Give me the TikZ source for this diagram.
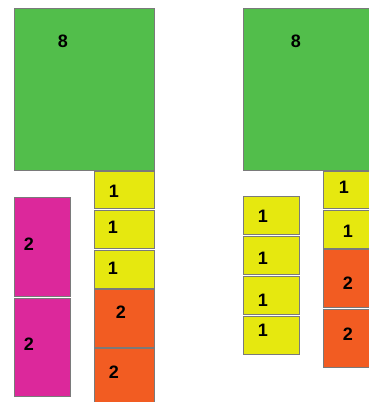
\documentclass[tikz,border=0pt]{standalone}
\usepackage{fontspec}
\setmainfont{Liberation Sans}
\usetikzlibrary{positioning}
\definecolor{bgreen}{HTML}{52BE4B}
\definecolor{byellow}{HTML}{E6E80F}
\definecolor{borange}{HTML}{F25C22}
\definecolor{bmagenta}{HTML}{DC289B}
\definecolor{bedge}{HTML}{7A7A7A}
\begin{document}
\begin{tikzpicture}[x=1pt, y=-1pt, every node/.style={font=\fontsize{18}{18}\selectfont\bfseries}]
        \tikzset{blk/.style={draw=bedge, line width=1pt}}
        \useasboundingbox (0,0) rectangle (369,402);
        % left layout
        \draw[blk, fill=bgreen] (14,8) rectangle (154,170);
        \node (lg) at (63,41) {8};
        
        \draw[blk, fill=byellow] (94,171) rectangle (154,208);
        \node (ly1) at (114,191) {1};
        \draw[blk, fill=byellow] (94,210) rectangle (154,248);
        \node (ly2) at (113,227) {1};
        \draw[blk, fill=byellow] (94,250) rectangle (154,288);
        \node (ly3) at (113,268) {1};
        \draw[blk, fill=borange] (94,289) rectangle (154,347);
        \node (lo1) at (121,312) {2};
        \draw[blk, fill=borange] (94,348) rectangle (154,406);
        \node (lo2) at (114,372) {2};
        
        \draw[blk, fill=bmagenta] (14,197) rectangle (70,296);
        \node (lm1) at (29,244) {2};
        \draw[blk, fill=bmagenta] (14,298) rectangle (70,396);
        \node (lm2) at (29,344) {2};
        
        % right layout
        \draw[blk, fill=bgreen] (243,8) rectangle (374,170);
        \node (rg) at (296,41) {8};
        
        \draw[blk, fill=byellow] (323,171) rectangle (374,208);
        \node (ry1) at (344,187) {1};
        \draw[blk, fill=byellow] (323,210) rectangle (374,248);
        \node (ry2) at (348,231) {1};
        \draw[blk, fill=borange] (323,249) rectangle (374,307);
        \node (ro1) at (348,283) {2};
        \draw[blk, fill=borange] (323,309) rectangle (374,367);
        \node (ro2) at (348,334) {2};
        
        \draw[blk, fill=byellow] (243,196) rectangle (299,234);
        \node (rs1) at (263,216) {1};
        \draw[blk, fill=byellow] (243,236) rectangle (299,274);
        \node (rs2) at (263,258) {1};
        \draw[blk, fill=byellow] (243,276) rectangle (299,314);
        \node (rs3) at (263,300) {1};
        \draw[blk, fill=byellow] (243,316) rectangle (299,354);
        \node (rs4) at (263,330) {1};
    \end{tikzpicture}
\end{document}
